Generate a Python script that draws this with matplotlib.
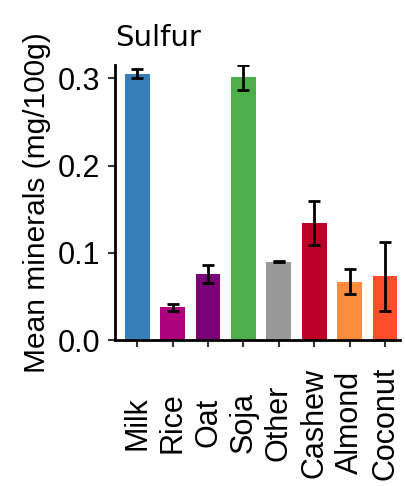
import matplotlib.pyplot as plt

plt.rcParams['font.family'] = ['Liberation Sans', 'DejaVu Sans']

groups = ["Milk", "Rice", "Oat", "Soja", "Other", "Cashew", "Almond", "Coconut"]
means = [0.305, 0.0375, 0.076, 0.301, 0.090, 0.134, 0.067, 0.073]
errors = [0.005, 0.004, 0.010, 0.014, 0.001, 0.025, 0.014, 0.039]
colors = ["#377EB8", "#AE017E", "#7A0177", "#4DAF4A", "#999999",
          "#BD0026", "#FD8D3C", "#FC4E2A"]

fig = plt.figure(figsize=(4.06, 4.86), dpi=100)
ax = fig.add_axes([0.283, 0.300, 0.702, 0.566])

x = range(len(groups))
ax.bar(x, means, width=0.7, color=colors, yerr=errors,
       error_kw=dict(ecolor="black", elinewidth=2, capsize=4, capthick=2))

ax.set_xlim(-0.63, 7.42)
ax.set_ylim(0, 0.315)
ax.set_yticks([0.0, 0.1, 0.2, 0.3])
ax.set_yticklabels(["0.0", "0.1", "0.2", "0.3"])
ax.set_xticks(list(x))
# labels are centred on a common line below the axis
ax.set_xticklabels(groups, rotation=90, va="center", ha="center")

for side in ["top", "right"]:
    ax.spines[side].set_visible(False)
for side in ["left", "bottom"]:
    ax.spines[side].set_linewidth(2)
ax.tick_params(axis="both", width=1.5, length=5, labelsize=22, color="#333333")
ax.tick_params(axis="y", pad=5.5)
ax.tick_params(axis="x", pad=54.5)

ax.set_ylabel("Mean minerals (mg/100g)", fontsize=21.5, labelpad=5)
ax.set_title("Sulfur", loc="left", fontsize=21, pad=13.5, family="DejaVu Sans")

fig.savefig("out.png", dpi=100)
